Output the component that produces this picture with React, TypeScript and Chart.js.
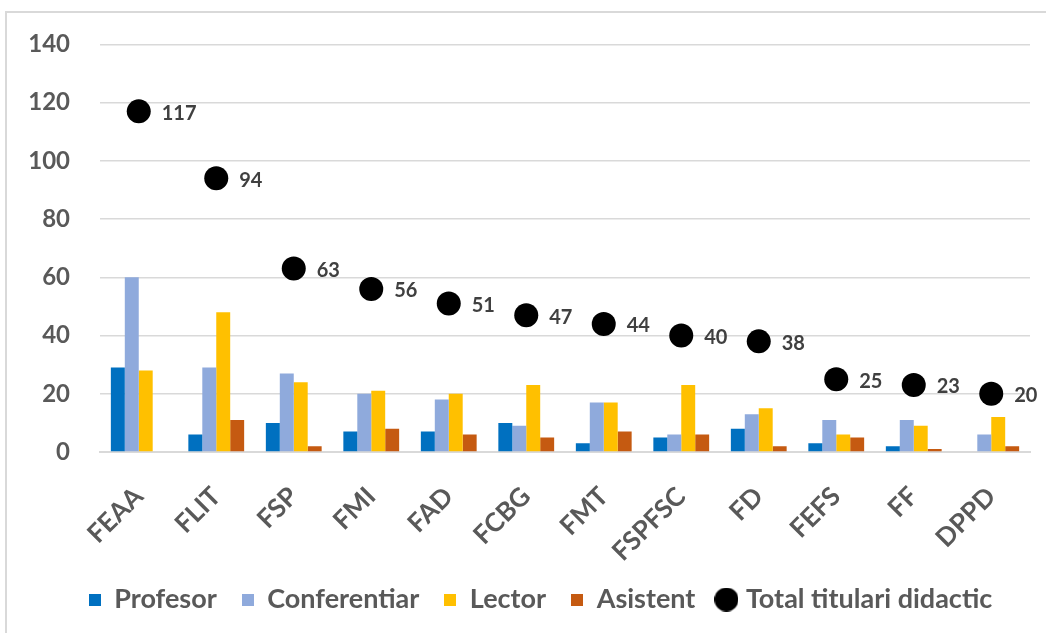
import { useEffect, useRef } from "react";
import { Chart, registerables } from "chart.js";
Chart.register(...registerables);

const categories = ["FEAA", "FLIT", "FSP", "FMI", "FAD", "FCBG", "FMT", "FSPFSC", "FD", "FEFS", "FF", "DPPD"];
const profesor = [29, 6, 10, 7, 7, 10, 3, 5, 8, 3, 2, 0];
const conferentiar = [60, 29, 27, 20, 18, 9, 17, 6, 13, 11, 11, 6];
const lector = [28, 48, 24, 21, 20, 23, 17, 23, 15, 6, 9, 12];
const asistent = [0, 11, 2, 8, 6, 5, 7, 6, 2, 5, 1, 2];
const total = [117, 94, 63, 56, 51, 47, 44, 40, 38, 25, 23, 20];
const seriesNames = ["Profesor", "Conferentiar", "Lector", "Asistent", "Total titulari didactic"];
const seriesColors = ["#0070C0", "#8FAADC", "#FFC000", "#C55A11", "#000000"];
const yMin = 0;
const yMax = 140;
const yStep = 20;

const FONT = "Lato, 'Open Sans', sans-serif";
const TEXT = "#595959";

function makeIcon(i: number) {
  const c = document.createElement("canvas");
  const ctx = c.getContext("2d")!;
  if (i === 4) {
    c.width = 24;
    c.height = 24;
    ctx.fillStyle = seriesColors[i];
    ctx.beginPath();
    ctx.arc(12, 12, 12, 0, Math.PI * 2);
    ctx.fill();
  } else {
    c.width = 12;
    c.height = 12;
    ctx.fillStyle = seriesColors[i];
    ctx.fillRect(0, 0, 12, 12);
  }
  return c;
}

const dotLabels = {
  id: "dotLabels",
  afterDatasetsDraw(chart: any) {
    const ctx = chart.ctx;
    const meta = chart.getDatasetMeta(4);
    ctx.save();
    ctx.font = `bold 20px ${FONT}`;
    ctx.fillStyle = "#404040";
    ctx.textAlign = "left";
    ctx.textBaseline = "middle";
    meta.data.forEach((pt: any, i: number) => {
      ctx.fillText(String(total[i]), pt.x + 23, pt.y + 2);
    });
    ctx.restore();
  },
};

const legendShift = {
  id: "legendShift",
  afterLayout(chart: any) {
    const l = chart.legend;
    if (l) {
      l.left += 13;
      l.right += 13;
    }
  },
};

export default function App() {
  const ref = useRef<HTMLCanvasElement>(null);
  useEffect(() => {
    const icons = seriesNames.map((_, i) => makeIcon(i));
    const barData = [profesor, conferentiar, lector, asistent];
    const chart = new Chart(ref.current!, {
      type: "bar",
      data: {
        labels: categories,
        datasets: [
          ...barData.map((d, i) => ({
            type: "bar" as const,
            label: seriesNames[i],
            data: d,
            backgroundColor: seriesColors[i],
            categoryPercentage: 0.72,
            barPercentage: 1,
            order: 2,
          })),
          {
            type: "line" as const,
            label: seriesNames[4],
            data: total,
            showLine: false,
            pointRadius: 12,
            pointHoverRadius: 12,
            pointBackgroundColor: "#000",
            pointBorderWidth: 0,
            borderColor: "#000",
            backgroundColor: "#000",
            order: 1,
          },
        ],
      } as any,
      options: {
        animation: false,
        responsive: false,
        layout: { padding: { left: 25, right: 16, top: 42, bottom: 10 } },
        plugins: {
          tooltip: { enabled: false },
          legend: {
            position: "bottom",
            labels: {
              usePointStyle: true,
              boxWidth: 12,
              boxHeight: 12,
              padding: 25,
              color: TEXT,
              font: { family: FONT, size: 27, weight: "bold" },
              generateLabels: () =>
                seriesNames.map((n, i) => ({
                  text: n,
                  fillStyle: seriesColors[i],
                  strokeStyle: seriesColors[i],
                  lineWidth: 0,
                  pointStyle: icons[i],
                  datasetIndex: i,
                  hidden: false,
                  fontColor: TEXT,
                })),
            },
          },
        },
        scales: {
          x: {
            grid: { display: false },
            border: { display: true, color: "#d9d9d9", width: 2 },
            ticks: {
              color: TEXT,
              font: { family: FONT, size: 26, weight: "bold" },
              maxRotation: 45,
              minRotation: 45,
              padding: 21,
            },
            afterFit: (s: any) => {
              s.height = 109;
            },
          },
          y: {
            min: yMin,
            max: yMax,
            grid: { color: "#d9d9d9", lineWidth: 1.5, drawTicks: false },
            border: { display: false },
            ticks: {
              stepSize: yStep,
              color: TEXT,
              padding: 30,
              font: { family: FONT, size: 24, weight: "bold" },
            },
            afterFit: (s: any) => {
              s.width = 75;
            },
          },
        },
      } as any,
      plugins: [dotLabels, legendShift],
    });
    return () => chart.destroy();
  }, []);
  return (
    <div style={{ position: "fixed", left: 0, top: 0, width: 1046, height: 633, background: "#fff", overflow: "hidden" }}>
      <div
        style={{
          position: "absolute",
          left: 5,
          top: 11,
          width: 1100,
          height: 700,
          border: "2px solid #d9d9d9",
        }}
      />
      <canvas ref={ref} width={1046} height={633} style={{ position: "absolute", left: 0, top: 0 }} />
    </div>
  );
}
